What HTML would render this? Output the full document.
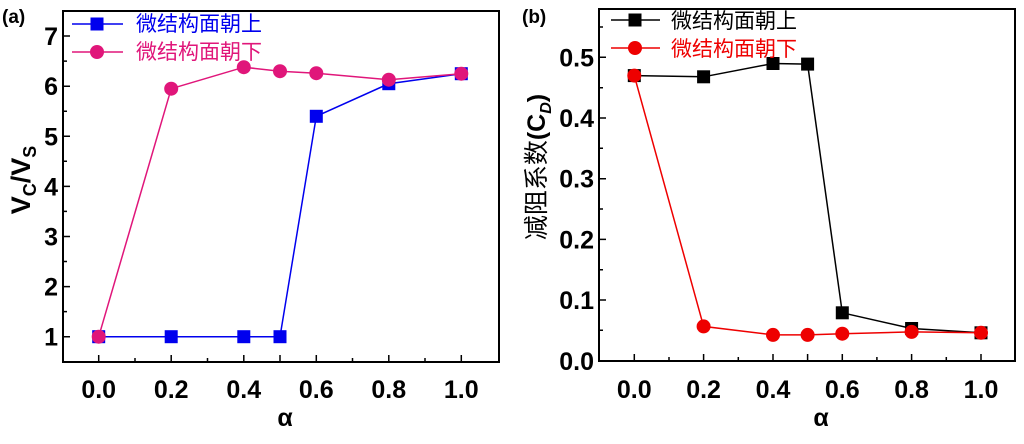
<!DOCTYPE html>
<html><head><meta charset="utf-8"><style>body{margin:0;background:#fff}svg{display:block}</style></head><body>
<svg width="1024" height="444" xmlns="http://www.w3.org/2000/svg" font-family="Liberation Sans, Noto Sans CJK SC, sans-serif">
<rect width="1024" height="444" fill="#fff"/>
<text x="2" y="23" font-size="19" font-weight="bold">(a)</text>
<text x="522" y="23" font-size="19" font-weight="bold">(b)</text>
<g fill="none" stroke="#000" stroke-width="2">
<rect x="63" y="11" width="436" height="351"/>
<rect x="599" y="9" width="416" height="352"/>
</g>
<g stroke="#000" stroke-width="1.5">
<path d="M98.7 362v-7M171.2 362v-7M243.8 362v-7M280 362v-7M316.3 362v-7M388.8 362v-7M461.3 362v-7"/>
<path d="M135 362v-4M207.5 362v-4M352.5 362v-4M425 362v-4"/>
<path d="M63 336.7h7M63 286.6h7M63 236.5h7M63 186.4h7M63 136.3h7M63 86.2h7M63 36h7"/>
<path d="M63 311.6h4M63 261.5h4M63 211.4h4M63 161.3h4M63 111.2h4M63 61.1h4"/>
<path d="M634.3 361v-7M703.6 361v-7M773 361v-7M807.6 361v-7M842.3 361v-7M911.6 361v-7M981 361v-7"/>
<path d="M669 361v-4M738.3 361v-4M876.9 361v-4M946.3 361v-4"/>
<path d="M599 300h7M599 239.4h7M599 178.7h7M599 118h7M599 57.3h7"/>
<path d="M599 330.3h4M599 269.7h4M599 209h4M599 148.3h4M599 87.7h4M599 27h4"/>
</g>
<g font-size="25" font-weight="bold" text-anchor="middle">
<text x="98.7" y="398">0.0</text><text x="171.2" y="398">0.2</text><text x="243.8" y="398">0.4</text><text x="316.3" y="398">0.6</text><text x="388.8" y="398">0.8</text><text x="461.3" y="398">1.0</text>
<text x="634.3" y="398">0.0</text><text x="703.6" y="398">0.2</text><text x="773" y="398">0.4</text><text x="842.3" y="398">0.6</text><text x="911.6" y="398">0.8</text><text x="981" y="398">1.0</text>
<text x="285" y="426">α</text><text x="821" y="426">α</text>
</g>
<g font-size="25" font-weight="bold" text-anchor="end">
<text x="58" y="345.7">1</text><text x="58" y="295.6">2</text><text x="58" y="245.5">3</text><text x="58" y="195.4">4</text><text x="58" y="145.3">5</text><text x="58" y="95.2">6</text><text x="58" y="45">7</text>
<text x="594" y="370">0.0</text><text x="594" y="309">0.1</text><text x="594" y="248.4">0.2</text><text x="594" y="187.7">0.3</text><text x="594" y="127">0.4</text><text x="594" y="66.3">0.5</text>
</g>
<text transform="translate(30,180) rotate(-90)" text-anchor="middle" font-size="27" font-weight="bold">V<tspan font-size="18" dy="6">C</tspan><tspan dy="-6">/V</tspan><tspan font-size="18" dy="6">S</tspan></text>
<text transform="translate(545,167) rotate(-90)" text-anchor="middle" font-size="25">减阻系数<tspan font-weight="bold">(C</tspan><tspan font-weight="bold" font-style="italic" font-size="16" dy="6">D</tspan><tspan font-weight="bold" dy="-6">)</tspan></text>
<polyline fill="none" stroke="#0000ee" stroke-width="1.5" points="98.7,336.7 171.2,336.7 243.8,336.7 280,336.7 316.3,116.3 388.8,83.7 461.3,73.7"/>
<g fill="#0000ee">
<rect x="92.2" y="330.2" width="13" height="13"/><rect x="164.7" y="330.2" width="13" height="13"/><rect x="237.3" y="330.2" width="13" height="13"/><rect x="273.5" y="330.2" width="13" height="13"/><rect x="309.8" y="109.8" width="13" height="13"/><rect x="382.3" y="77.2" width="13" height="13"/><rect x="454.8" y="67.2" width="13" height="13"/>
</g>
<polyline fill="none" stroke="#e0167a" stroke-width="1.5" points="98.7,336.7 171.2,88.7 243.8,67.2 280,71.2 316.3,73.2 388.8,79.7 461.3,73.7"/>
<g fill="#e0167a">
<circle cx="98.7" cy="336.7" r="7"/><circle cx="171.2" cy="88.7" r="7"/><circle cx="243.8" cy="67.2" r="7"/><circle cx="280" cy="71.2" r="7"/><circle cx="316.3" cy="73.2" r="7"/><circle cx="388.8" cy="79.7" r="7"/><circle cx="461.3" cy="73.7" r="7"/>
</g>
<line x1="72" y1="24" x2="123" y2="24" stroke="#0000ee" stroke-width="1.5"/><rect x="90.5" y="17.5" width="13" height="13" fill="#0000ee"/>
<line x1="72" y1="52" x2="123" y2="52" stroke="#e0167a" stroke-width="1.5"/><circle cx="97" cy="52" r="7" fill="#e0167a"/>
<text x="136" y="31" font-size="21" fill="#0000ee">微结构面朝上</text>
<text x="136" y="59" font-size="21" fill="#e0167a">微结构面朝下</text>
<polyline fill="none" stroke="#000" stroke-width="1.5" points="634.3,75.6 703.6,76.8 773,63.5 807.6,64.1 842.3,312.8 911.6,328.5 981,332.8"/>
<g fill="#000">
<rect x="627.8" y="69.1" width="13" height="13"/><rect x="697.1" y="70.3" width="13" height="13"/><rect x="766.5" y="57" width="13" height="13"/><rect x="801.1" y="57.6" width="13" height="13"/><rect x="835.8" y="306.3" width="13" height="13"/><rect x="905.1" y="322" width="13" height="13"/><rect x="974.5" y="326.3" width="13" height="13"/>
</g>
<polyline fill="none" stroke="#ee0000" stroke-width="1.5" points="634.3,75.6 703.6,326.4 773,334.9 807.6,334.9 842.3,333.7 911.6,331.9 981,332.8"/>
<g fill="#ee0000">
<circle cx="634.3" cy="75.6" r="7"/><circle cx="703.6" cy="326.4" r="7"/><circle cx="773" cy="334.9" r="7"/><circle cx="807.6" cy="334.9" r="7"/><circle cx="842.3" cy="333.7" r="7"/><circle cx="911.6" cy="331.9" r="7"/><circle cx="981" cy="332.8" r="7"/>
</g>
<line x1="611" y1="20" x2="660" y2="20" stroke="#000" stroke-width="1.5"/><rect x="628.5" y="13.5" width="13" height="13" fill="#000"/>
<line x1="611" y1="48" x2="660" y2="48" stroke="#ee0000" stroke-width="1.5"/><circle cx="635" cy="48" r="7" fill="#ee0000"/>
<text x="671" y="28" font-size="21" fill="#000">微结构面朝上</text>
<text x="671" y="56" font-size="21" fill="#ee0000">微结构面朝下</text>
</svg>
</body></html>
